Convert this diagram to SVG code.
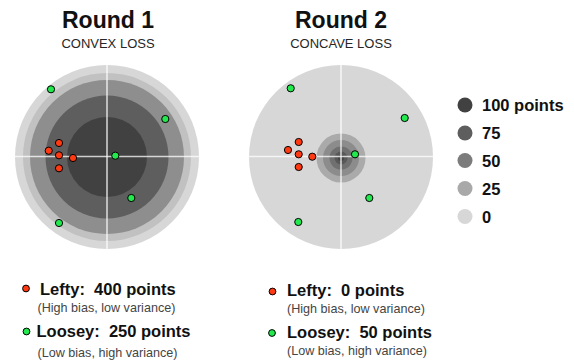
<svg xmlns="http://www.w3.org/2000/svg" width="574" height="361" viewBox="0 0 574 361">
<style>
text{font-family:"Liberation Sans",Arial,sans-serif}
.title{font-size:23px;font-weight:bold;fill:#111;text-anchor:middle}
.sub{font-size:13px;fill:#262626;text-anchor:middle}
.score{font-size:16.5px;font-weight:bold;fill:#111;white-space:pre}
.note{font-size:12.6px;fill:#444}
.leg{font-size:16.5px;font-weight:bold;fill:#111}
.red{fill:#ff3a12;stroke:#000;stroke-width:1}
.green{fill:#22ea4e;stroke:#000;stroke-width:1}
.cross{stroke:#fff;stroke-opacity:0.75;stroke-width:1.6}
</style>
<rect width="574" height="361" fill="#fff"/>

<g id="round1">
<text class="title" x="108" y="27.5">Round 1</text>
<text class="sub" x="108" y="47.5">CONVEX LOSS</text>
<g id="target1">
<circle cx="107" cy="157" r="92" fill="#d7d7d7"/>
<circle cx="107" cy="157" r="84" fill="#c1c1c1"/>
<circle cx="107" cy="157" r="77" fill="#8e8e8e"/>
<circle cx="107" cy="157" r="61.5" fill="#5e5e5e"/>
<circle cx="107" cy="157" r="40" fill="#414141"/>
<line class="cross" x1="15" y1="156.5" x2="199" y2="156.5"/>
<line class="cross" x1="107" y1="65" x2="107" y2="249"/>
</g>
<g id="dots1">
<circle class="green" cx="51" cy="89.3" r="3.6"/>
<circle class="green" cx="165.3" cy="119" r="3.6"/>
<circle class="red" cx="59" cy="143" r="3.6"/>
<circle class="red" cx="48.7" cy="150.7" r="3.6"/>
<circle class="red" cx="59" cy="155.3" r="3.6"/>
<circle class="red" cx="73" cy="158" r="3.6"/>
<circle class="red" cx="59" cy="168.3" r="3.6"/>
<circle class="green" cx="115.3" cy="155.7" r="3.6"/>
<circle class="green" cx="131.3" cy="198" r="3.6"/>
<circle class="green" cx="59" cy="223" r="3.6"/>
</g>
<g id="scores1">
<circle class="red" cx="26" cy="288.5" r="3.4"/>
<text class="score" x="40" y="295" xml:space="preserve">Lefty:  400 points</text>
<text class="note" x="37.5" y="312">(High bias, low variance)</text>
<circle class="green" cx="26.5" cy="331.5" r="3.4"/>
<text class="score" x="36.5" y="337" xml:space="preserve">Loosey:  250 points</text>
<text class="note" x="37.5" y="356.5">(Low bias, high variance)</text>
</g>
</g>

<g id="round2">
<text class="title" x="341" y="27.5">Round 2</text>
<text class="sub" x="341" y="47.5">CONCAVE LOSS</text>
<g id="target2">
<circle cx="341" cy="157" r="92" fill="#d7d7d7"/>
<circle cx="341" cy="158" r="24.5" fill="#aaaaaa"/>
<circle cx="341" cy="158" r="18" fill="#8c8c8c"/>
<circle cx="341" cy="158" r="11.5" fill="#707070"/>
<circle cx="341" cy="158" r="6.5" fill="#585858"/>
<circle cx="341" cy="158" r="3" fill="#444444"/>
<line class="cross" x1="249" y1="156.5" x2="433" y2="156.5"/>
<line class="cross" x1="341" y1="65" x2="341" y2="249"/>
</g>
<g id="dots2">
<circle class="green" cx="290.7" cy="88.3" r="3.6"/>
<circle class="green" cx="404.7" cy="118" r="3.6"/>
<circle class="red" cx="298.7" cy="142" r="3.6"/>
<circle class="red" cx="288" cy="150" r="3.6"/>
<circle class="red" cx="298.7" cy="154.3" r="3.6"/>
<circle class="red" cx="312.3" cy="156.7" r="3.6"/>
<circle class="red" cx="298.7" cy="167" r="3.6"/>
<circle class="green" cx="355" cy="154.3" r="3.6"/>
<circle class="green" cx="369.3" cy="198" r="3.6"/>
<circle class="green" cx="298.3" cy="222" r="3.6"/>
</g>
<g id="scores2">
<circle class="red" cx="272.5" cy="291.5" r="3.4"/>
<text class="score" x="287" y="296" xml:space="preserve">Lefty:  0 points</text>
<text class="note" x="287" y="312.5">(High bias, low variance)</text>
<circle class="green" cx="272" cy="333" r="3.4"/>
<text class="score" x="287" y="338" xml:space="preserve">Loosey:  50 points</text>
<text class="note" x="287" y="355">(Low bias, high variance)</text>
</g>
</g>

<g id="legend">
<circle cx="465" cy="105" r="7.5" fill="#414141"/>
<text class="leg" x="482" y="111">100 points</text>
<circle cx="465" cy="133" r="7.5" fill="#5e5e5e"/>
<text class="leg" x="482" y="139">75</text>
<circle cx="465" cy="160.5" r="7.5" fill="#7c7c7c"/>
<text class="leg" x="482" y="166.5">50</text>
<circle cx="465" cy="188.5" r="7.5" fill="#a9a9a9"/>
<text class="leg" x="482" y="194.5">25</text>
<circle cx="465" cy="216.5" r="7.5" fill="#d7d7d7"/>
<text class="leg" x="482" y="222.5">0</text>
</g>
</svg>
